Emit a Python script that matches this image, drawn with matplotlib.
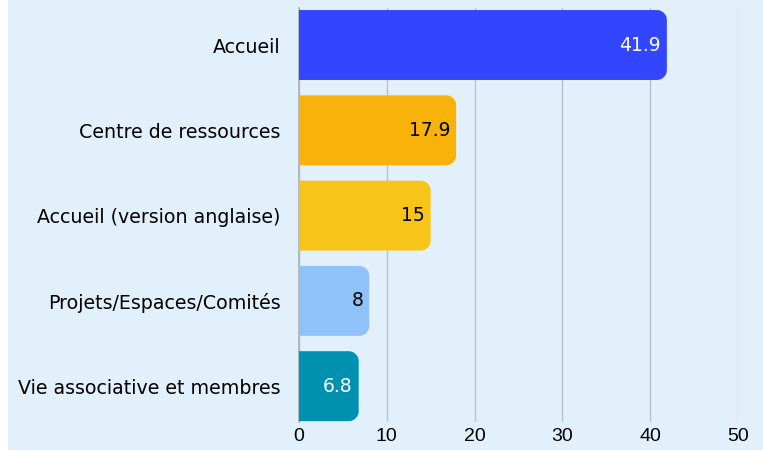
import matplotlib
matplotlib.use("Agg")
import matplotlib.pyplot as plt
from matplotlib.patches import FancyBboxPatch, PathPatch
from matplotlib.path import Path
import numpy as np

categories = ["Accueil", "Centre de ressources", "Accueil (version anglaise)",
              "Projets/Espaces/Comités", "Vie associative et membres"]
values = [41.9, 17.9, 15, 8, 6.8]
value_labels = ["41.9", "17.9", "15", "8", "6.8"]
colors = ["#3346FF", "#F9B20A", "#F7C51A", "#90C2FA", "#0090B0"]
label_colors = ["white", "black", "black", "black", "white"]
xticks = [0, 10, 20, 30, 40, 50]

plt.rcParams['font.family'] = ['Liberation Sans', 'DejaVu Sans']

W, H = 763, 450
fig = plt.figure(figsize=(W / 100, H / 100), dpi=100)
fig.patch.set_facecolor("white")

bg = "#E2F0FB"
panel = FancyBboxPatch((8 / W, -20 / H), (W + 30) / W, (H + 40) / H,
                       boxstyle="round,pad=0,rounding_size=0.025",
                       transform=fig.transFigure, facecolor=bg, edgecolor="none",
                       mutation_aspect=W / H, zorder=-10)
fig.patches.append(panel)

ax = fig.add_axes([299 / W, 1 - 422 / H, (738 - 299) / W, (422 - 8) / H])
ax.set_facecolor("none")
ax.set_zorder(5)

y = np.arange(len(categories))
bar_h = 0.82
ax.set_xlim(0, 50)
ax.set_ylim(4.42, -0.434)

def px_to_data_x(px):
    return px * 50 / (738 - 299)

def px_to_data_y(px):
    return px * (4.42 + 0.434) / (422 - 8)

r_px = 10
rx = px_to_data_x(r_px)
ry = px_to_data_y(r_px)
for yi, v, c in zip(y, values, colors):
    y0, y1 = yi - bar_h / 2, yi + bar_h / 2
    k = 0.5523
    verts = [(0, y0), (v - rx, y0),
             (v - rx + rx * k, y0), (v, y0 + ry - ry * k), (v, y0 + ry),
             (v, y1 - ry),
             (v, y1 - ry + ry * k), (v - rx + rx * k, y1), (v - rx, y1),
             (0, y1), (0, y0)]
    codes = [Path.MOVETO, Path.LINETO,
             Path.CURVE4, Path.CURVE4, Path.CURVE4,
             Path.LINETO,
             Path.CURVE4, Path.CURVE4, Path.CURVE4,
             Path.LINETO, Path.CLOSEPOLY]
    ax.add_patch(PathPatch(Path(verts, codes), facecolor=c, edgecolor="none", zorder=3))

for yi, v, lab, lc in zip(y, values, value_labels, label_colors):
    ax.text(v - px_to_data_x(6), yi, lab, ha="right", va="center",
            color=lc, fontsize=13.5, family=['DejaVu Sans'], zorder=4)

ax.set_yticks(y)
ax.set_yticklabels(categories, fontsize=13.7, family=['DejaVu Sans'])
ax.set_xticks(xticks)
ax.set_xticklabels([str(t) for t in xticks], fontsize=14)
ax.tick_params(axis="both", length=0)
ax.tick_params(axis="y", pad=13.5)
ax.tick_params(axis="x", pad=4.5)
ax.grid(axis="x", color="#B8C2CC", linewidth=1, zorder=1)
ax.set_axisbelow(True)
for s in ["top", "right", "bottom"]:
    ax.spines[s].set_visible(False)
ax.spines["left"].set_color("#A9B1B8")
ax.spines["left"].set_linewidth(1.2)

fig.savefig("out.png", dpi=100, facecolor=fig.get_facecolor())
